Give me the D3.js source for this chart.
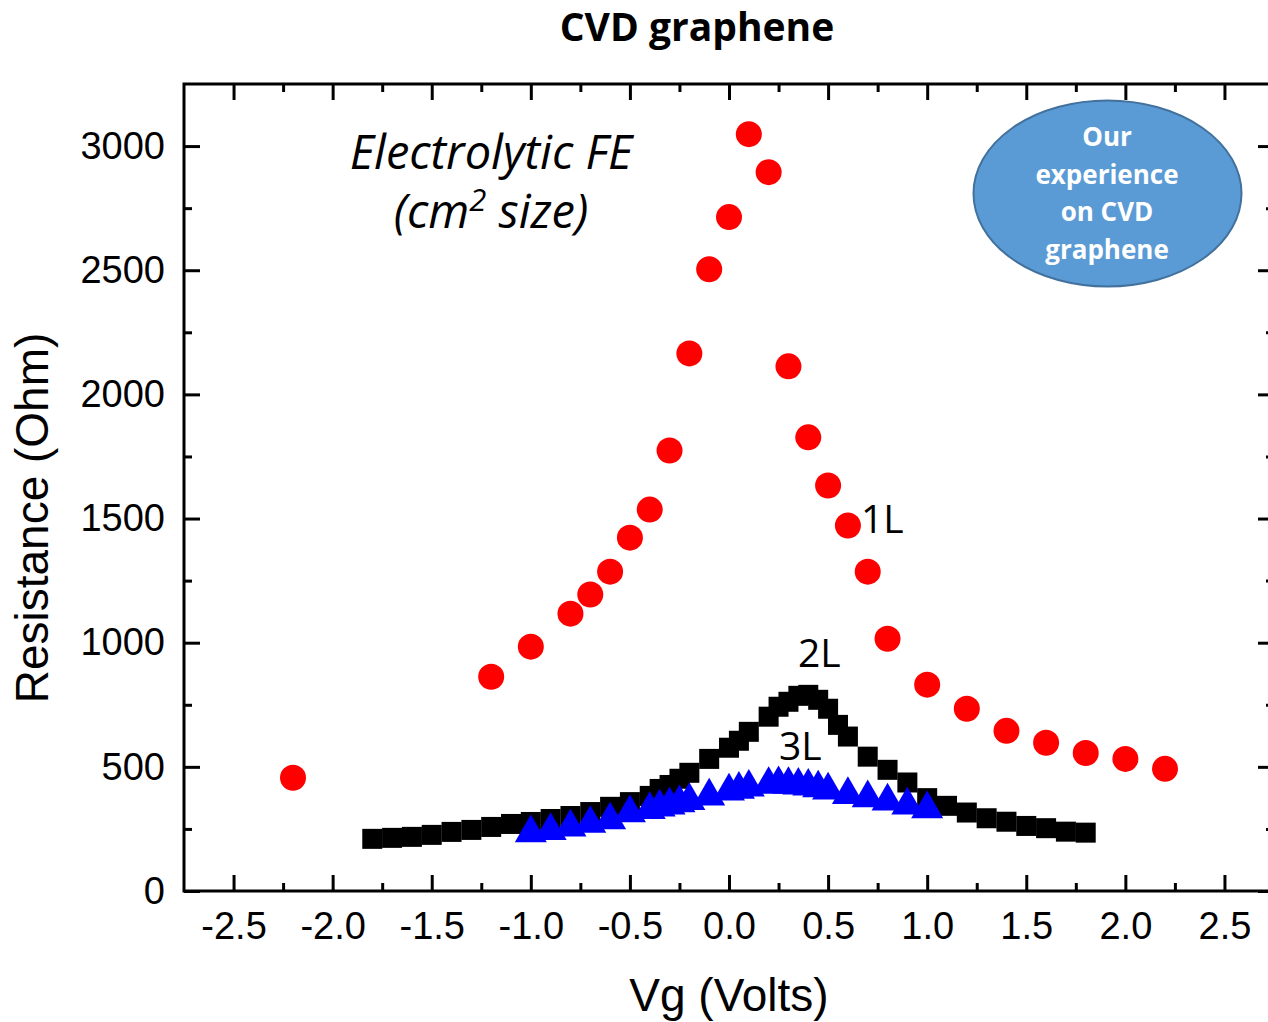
<!DOCTYPE html>
<html>
<head>
<meta charset="utf-8">
<script src="https://cdn.jsdelivr.net/npm/d3@7"></script>
<style>
  html, body { margin: 0; padding: 0; background: #fff; }
  svg { display: block; }
</style>
</head>
<body>
<svg width="1268" height="1022"></svg>
<script>
const width = 1268;
const height = 1022;

// 1L (red circles)
const vg1L = [-2.2, -1.2, -1.0, -0.8, -0.7, -0.6, -0.5, -0.4, -0.3, -0.2, -0.1, 0.0, 0.1, 0.2,
    0.3, 0.4, 0.5, 0.6, 0.7, 0.8, 1.0, 1.2, 1.4, 1.6, 1.8, 2.0, 2.2];
const res1L = [456, 863, 984, 1117, 1194, 1286, 1423, 1536, 1774, 2165, 2504, 2714, 3048, 2895,
    2113, 1827, 1633, 1472, 1286, 1016, 831, 734, 645, 597, 556, 532, 492];

// 2L (black squares)
const vg2L = [-1.8, -1.7, -1.6, -1.5, -1.4, -1.3, -1.2, -1.1, -1.0, -0.9, -0.8, -0.7, -0.6, -0.5,
    -0.4, -0.35, -0.3, -0.25, -0.2, -0.1, 0.0, 0.05, 0.1, 0.2, 0.25, 0.3, 0.35, 0.4, 0.45, 0.5,
    0.55, 0.6, 0.7, 0.8, 0.9, 1.0, 1.1, 1.2, 1.3, 1.4, 1.5, 1.6, 1.7, 1.8];
const res2L = [210, 214, 218, 226, 238, 246, 258, 270, 278, 290, 302, 318, 339, 358,
    383, 411, 427, 452, 476, 532, 577, 605, 641, 702, 742, 762, 786, 790, 770, 734,
    669, 622, 541, 488, 437, 374, 343, 316, 293, 279, 262, 253, 239, 235];

// 3L (blue triangles)
const vg3L = [-1.0, -0.9, -0.8, -0.7, -0.6, -0.5, -0.4, -0.35, -0.3, -0.25, -0.2, -0.1, 0.0,
    0.05, 0.1, 0.2, 0.25, 0.3, 0.35, 0.4, 0.45, 0.5, 0.6, 0.7, 0.8, 0.9, 1.0];
const res3L = [252, 261, 275, 290, 304, 333, 346, 356, 364, 373, 382, 400, 420,
    427, 436, 447, 450, 447, 444, 440, 433, 424, 406, 393, 380, 364, 349];

const xTicks = [-2.5, -2.0, -1.5, -1.0, -0.5, 0.0, 0.5, 1.0, 1.5, 2.0, 2.5];
const xTickLabels = ["-2.5", "-2.0", "-1.5", "-1.0", "-0.5", "0.0", "0.5", "1.0", "1.5", "2.0", "2.5"];
const xMinorTicks = [-2.25, -1.75, -1.25, -0.75, -0.25, 0.25, 0.75, 1.25, 1.75, 2.25];
const yTicks = [0, 500, 1000, 1500, 2000, 2500, 3000];
const yTickLabels = ["0", "500", "1000", "1500", "2000", "2500", "3000"];
const yMinorTicks = [250, 750, 1250, 1750, 2250, 2750];

const calibri = "'Open Sans', 'Noto Sans', sans-serif";
const arial = "'Liberation Sans', Arial, sans-serif";

const svg = d3.select("svg");

const x = d3.scaleLinear().domain([-2.75, 2.75]).range([184, 1274]);
const y = d3.scaleLinear().domain([0, 3250]).range([891, 84]);

// frame
svg.append("rect")
    .attr("x", x(-2.75))
    .attr("y", y(3250))
    .attr("width", x(2.75) - x(-2.75))
    .attr("height", y(0) - y(3250))
    .attr("fill", "none")
    .attr("stroke", "#000")
    .attr("stroke-width", 3);

const styleAxis = (g) => {
    g.select(".domain").remove();
    g.selectAll(".tick line").attr("stroke", "#000").attr("stroke-width", 3);
    g.attr("font-family", arial).attr("font-size", 38);
    g.selectAll(".tick text").attr("fill", "#000");
};

// bottom
svg.append("g")
    .attr("transform", `translate(0,${y(0)})`)
    .call(d3.axisBottom(x).tickValues(xTicks).tickSize(-16).tickPadding(21)
        .tickFormat((d, i) => xTickLabels[i]))
    .call(styleAxis);
svg.append("g")
    .attr("transform", `translate(0,${y(0)})`)
    .call(d3.axisBottom(x).tickValues(xMinorTicks).tickSize(-8).tickFormat(""))
    .call(styleAxis);
// top
svg.append("g")
    .attr("transform", `translate(0,${y(3250)})`)
    .call(d3.axisTop(x).tickValues(xTicks).tickSize(-16).tickFormat(""))
    .call(styleAxis);
svg.append("g")
    .attr("transform", `translate(0,${y(3250)})`)
    .call(d3.axisTop(x).tickValues(xMinorTicks).tickSize(-8).tickFormat(""))
    .call(styleAxis);
// left
svg.append("g")
    .attr("transform", `translate(${x(-2.75)},0)`)
    .call(d3.axisLeft(y).tickValues(yTicks).tickSize(-16).tickPadding(19)
        .tickFormat((d, i) => yTickLabels[i]))
    .call(styleAxis);
svg.append("g")
    .attr("transform", `translate(${x(-2.75)},0)`)
    .call(d3.axisLeft(y).tickValues(yMinorTicks).tickSize(-8).tickFormat(""))
    .call(styleAxis);
// right
svg.append("g")
    .attr("transform", `translate(${x(2.75)},0)`)
    .call(d3.axisRight(y).tickValues(yTicks).tickSize(-16).tickFormat(""))
    .call(styleAxis);
svg.append("g")
    .attr("transform", `translate(${x(2.75)},0)`)
    .call(d3.axisRight(y).tickValues(yMinorTicks).tickSize(-8).tickFormat(""))
    .call(styleAxis);

// axis titles
svg.append("text")
    .attr("x", x(0))
    .attr("y", 1011)
    .attr("text-anchor", "middle")
    .attr("font-family", arial)
    .attr("font-size", 46)
    .text("Vg (Volts)");

svg.append("text")
    .attr("transform", "translate(48,518) rotate(-90)")
    .attr("text-anchor", "middle")
    .attr("font-family", arial)
    .attr("font-size", 46)
    .text("Resistance (Ohm)");

// title
svg.append("text")
    .attr("x", 697)
    .attr("y", 41)
    .attr("text-anchor", "middle")
    .attr("font-family", calibri)
    .attr("font-weight", "bold")
    .attr("font-size", 39)
    .text("CVD graphene");

// 2L squares
const sq = 20;
svg.append("g")
    .selectAll("rect")
    .data(vg2L.map((v, i) => [v, res2L[i]]))
    .join("rect")
    .attr("x", (d) => x(d[0]) - sq / 2)
    .attr("y", (d) => y(d[1]) - sq / 2)
    .attr("width", sq)
    .attr("height", sq)
    .attr("fill", "#000");

// 3L triangles
const side = 32;
const th = side * Math.sqrt(3) / 2;
const triangle = `M0,${-th / 2}L${side / 2},${th / 2}L${-side / 2},${th / 2}Z`;
svg.append("g")
    .selectAll("path")
    .data(vg3L.map((v, i) => [v, res3L[i]]))
    .join("path")
    .attr("d", triangle)
    .attr("transform", (d) => `translate(${x(d[0])},${y(d[1])})`)
    .attr("fill", "#0000ff");

// 1L circles
svg.append("g")
    .selectAll("circle")
    .data(vg1L.map((v, i) => [v, res1L[i]]))
    .join("circle")
    .attr("cx", (d) => x(d[0]))
    .attr("cy", (d) => y(d[1]))
    .attr("r", 13)
    .attr("fill", "#ff0000");

// series labels
const labels = [["1L", 861, 533], ["2L", 798, 667], ["3L", 779, 760]];
svg.append("g")
    .selectAll("text")
    .data(labels)
    .join("text")
    .attr("x", (d) => d[1])
    .attr("y", (d) => d[2])
    .attr("font-family", calibri)
    .attr("font-size", 39)
    .attr("fill", "#000")
    .text((d) => d[0]);

// annotation
svg.append("text")
    .attr("x", 491)
    .attr("y", 169)
    .attr("text-anchor", "middle")
    .attr("font-family", calibri)
    .attr("font-style", "italic")
    .attr("font-size", 47)
    .text("Electrolytic FE");

const sub = svg.append("text")
    .attr("x", 491)
    .attr("y", 228)
    .attr("text-anchor", "middle")
    .attr("font-family", calibri)
    .attr("font-style", "italic")
    .attr("font-size", 47);
sub.append("tspan").text("(cm");
sub.append("tspan").attr("font-size", 31).attr("dy", -17).text("2");
sub.append("tspan").attr("dy", 17).text(" size)");

// bubble
svg.append("ellipse")
    .attr("cx", 1107.5)
    .attr("cy", 193.5)
    .attr("rx", 134)
    .attr("ry", 93)
    .attr("fill", "#5b9bd5")
    .attr("stroke", "#41719c")
    .attr("stroke-width", 2);

const bubbleLines = ["Our", "experience", "on CVD", "graphene"];
svg.append("g")
    .selectAll("text")
    .data(bubbleLines)
    .join("text")
    .attr("x", 1107)
    .attr("y", (d, i) => 146 + i * 37.5)
    .attr("text-anchor", "middle")
    .attr("font-family", calibri)
    .attr("font-weight", "bold")
    .attr("font-size", 26)
    .attr("fill", "#fff")
    .text((d) => d);
</script>
</body>
</html>
